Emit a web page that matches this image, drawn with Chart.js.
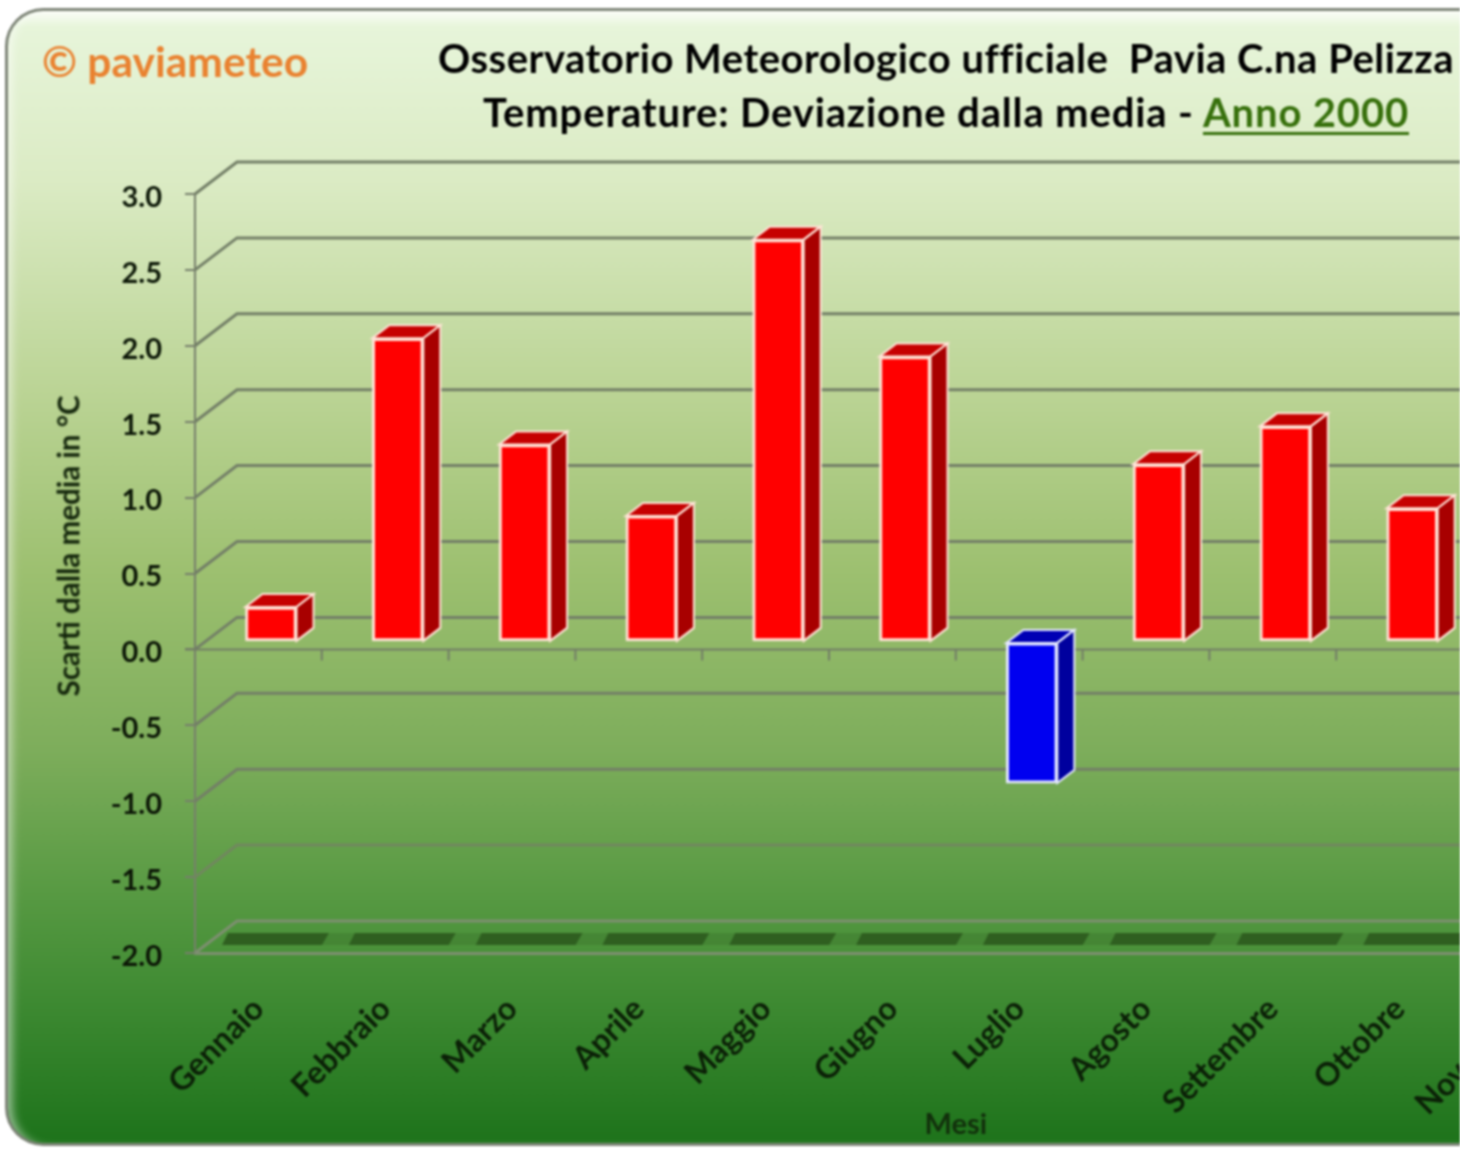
<!DOCTYPE html>
<html>
<head>
<meta charset="utf-8">
<title>Temperature: Deviazione dalla media - Anno 2000</title>
<script src="https://cdn.jsdelivr.net/npm/chart.js@4/dist/chart.umd.min.js"></script>
<style>
    html, body { margin: 0; padding: 0; background: #fff; overflow: hidden; }
    #page { position: relative; width: 1460px; height: 1149px; overflow: hidden; filter: blur(0.8px); font-family: Lato, sans-serif; }
    #panel {
        position: absolute; left: 5px; top: 8px; width: 1900px; height: 1132px;
        border: 3px solid #7f8679; border-right: none; border-radius: 38px;
        background: linear-gradient(to bottom, #fbfdf8 0px, #e7f5da 16px, #dbebc4 170px, #bbd495 380px, #9dc070 560px, #7dad5b 740px, #589a43 880px, #3e8a32 990px, #1f741c 1125px);
        box-shadow: inset 10px 0 10px -6px rgba(255,255,255,0.55);
    }
    canvas { position: absolute; left: 0; top: 0; }
    .title { position: absolute; left: 0; width: 1892px; text-align: center; font-weight: 700; font-size: 40px; color: #000; white-space: pre; }
    #title1 { top: 34px; letter-spacing: 0.5px; }
    #title2 { top: 88px; letter-spacing: 0.85px; }
    #title2 span { color: #37700c; text-decoration: underline; text-decoration-thickness: 3px; text-underline-offset: 5px; }
    #brand { position: absolute; left: 42px; top: 35px; font-weight: 700; font-size: 42.5px; color: #e98230; }
    #yTitle { position: absolute; left: 68px; top: 546px; transform: translate(-50%, -50%) rotate(-90deg); font-weight: 700; font-size: 29.5px; color: #12240a; white-space: nowrap; }
</style>
</head>
<body>
<div id="page">
    <div id="panel"></div>
    <canvas id="devChart" width="1900" height="1149"></canvas>
    <div id="brand">© paviameteo</div>
    <div class="title" id="title1">Osservatorio Meteorologico ufficiale  Pavia C.na Pelizza</div>
    <div class="title" id="title2">Temperature: Deviazione dalla media - <span>Anno 2000</span></div>
    <div id="yTitle">Scarti dalla media in °C</div>
</div>
<script>
const months = ['Gennaio', 'Febbraio', 'Marzo', 'Aprile', 'Maggio', 'Giugno', 'Luglio', 'Agosto', 'Settembre', 'Ottobre', 'Novembre', 'Dicembre'];
// last two bars fall outside the picture, so they can't be read
const deviations = [0.23, 2.0, 1.3, 0.83, 2.65, 1.88, -0.93, 1.17, 1.42, 0.88, null, null];
const yMin = -2;
const yMax = 3;
const yStep = 0.5;

const WALL_DX = 42, WALL_DY = 32;   // depth of the back wall
const BAR_DX = 12.6, BAR_DY = 7.5;  // bars stand inside the depth
const SIDE_DX = 17, SIDE_DY = 13;   // depth of a single bar

function barColor(v) { return v >= 0 ? '#ff0000' : '#0000f0'; }
function barTop(v) { return v >= 0 ? '#c60000' : '#0000b4'; }
function barSide(v) { return v >= 0 ? '#a80000' : '#00009e'; }
function barEdge(v) { return v >= 0 ? '#ffe3d6' : '#e4e8ff'; }

function poly(ctx, pts, fill, stroke) {
    ctx.beginPath();
    pts.forEach((p, i) => { i ? ctx.lineTo(p[0], p[1]) : ctx.moveTo(p[0], p[1]); });
    ctx.closePath();
    ctx.fillStyle = fill;
    ctx.fill();
    if (stroke) { ctx.lineWidth = 2; ctx.strokeStyle = stroke; ctx.stroke(); }
}

const wallPlugin = {
    id: 'wall',
    beforeDatasetsDraw(chart) {
        const { ctx, chartArea: a, scales: { x, y } } = chart;
        ctx.save();
        ctx.lineWidth = 2;
        y.ticks.forEach(t => {
            const py = y.getPixelForValue(t.value);
            ctx.strokeStyle = t.value === yMin ? '#7d8f70' : t.value === -1.5 ? '#71875f' : '#737f67';
            if (t.value === yMin) ctx.lineWidth = 3;
            ctx.beginPath();
            ctx.moveTo(a.left, py);
            ctx.lineTo(a.left + WALL_DX, py - WALL_DY);
            ctx.lineTo(a.right + WALL_DX, py - WALL_DY);
            ctx.stroke();
        });
        // dark floor stripes, one per month, with a faint one in the gaps
        const floor = y.getPixelForValue(yMin);
        const step = x.width / months.length;
        months.forEach((m, i) => {
            const s = a.left + i * step;
            poly(ctx, [[s + 33, floor - 20], [s + 134, floor - 20], [s + 127, floor - 8], [s + 27, floor - 8]], '#2f5f20');
            poly(ctx, [[s + 134, floor - 20], [s + 160, floor - 20], [s + 154, floor - 8], [s + 127, floor - 8]], 'rgba(47,95,32,0.25)');
        });
        // zero axis with its month ticks
        const zero = y.getPixelForValue(0);
        ctx.strokeStyle = '#727d66';
        ctx.lineWidth = 2;
        ctx.beginPath();
        ctx.moveTo(a.left - 10, zero);
        ctx.lineTo(a.right, zero);
        months.forEach((m, i) => {
            const s = a.left + (i + 1) * step;
            ctx.moveTo(s, zero);
            ctx.lineTo(s, zero + 11);
        });
        ctx.stroke();
        ctx.restore();
    },
    beforeDatasetDraw(chart, args) {
        const { ctx } = chart;
        ctx.save();
        ctx.translate(BAR_DX, -BAR_DY);
        args.meta.data.forEach((el, i) => {
            const v = deviations[i];
            if (v === null) return;
            const l = el.x - el.width / 2, r = el.x + el.width / 2;
            const top = Math.min(el.y, el.base), bottom = Math.max(el.y, el.base);
            poly(ctx, [[l, top], [r, top], [r + SIDE_DX, top - SIDE_DY], [l + SIDE_DX, top - SIDE_DY]], barTop(v), barEdge(v));
            poly(ctx, [[r, top], [r + SIDE_DX, top - SIDE_DY], [r + SIDE_DX, bottom - SIDE_DY], [r, bottom]], barSide(v), barEdge(v));
        });
    },
    afterDatasetDraw(chart) {
        chart.ctx.restore();
    }
};

new Chart(document.getElementById('devChart'), {
    type: 'bar',
    plugins: [wallPlugin],
    data: {
        labels: months,
        datasets: [{
            data: deviations,
            backgroundColor: deviations.map(barColor),
            borderColor: deviations.map(barEdge),
            borderWidth: 3,
            borderSkipped: false,
            barThickness: 51,
            clip: false
        }]
    },
    options: {
        responsive: false,
        animation: false,
        layout: { padding: { top: 194, right: 183.4, left: 0, bottom: 0 } },
        plugins: { legend: { display: false }, tooltip: { enabled: false } },
        scales: {
            x: {
                afterFit(s) { s.height = 196; },
                grid: { display: false },
                border: { color: '#7d8f70', width: 3 },
                ticks: {
                    autoSkip: false, minRotation: 45, maxRotation: 45, padding: 29,
                    font: { family: 'Lato', weight: 'bold', size: 32 }, color: '#0b2007'
                },
                title: {
                    display: true, text: 'Mesi', color: '#12300c', padding: { top: 0, bottom: 7 },
                    font: { family: 'Lato', weight: 'bold', size: 29 }
                }
            },
            y: {
                min: yMin,
                max: yMax,
                afterFit(s) { s.width = 195; },
                grid: { drawOnChartArea: false, tickLength: 10, color: '#767f6b', lineWidth: 2 },
                border: { color: '#767f6b', width: 2 },
                ticks: {
                    stepSize: yStep, padding: 23,
                    // empty first line + small lineHeight nudges the label down a few px
                    callback: v => ['', v.toFixed(1)],
                    font: { family: 'Lato', weight: 'bold', size: 29, lineHeight: 0.24 }, color: '#0b1606'
                }
            }
        }
    }
});
</script>
</body>
</html>
